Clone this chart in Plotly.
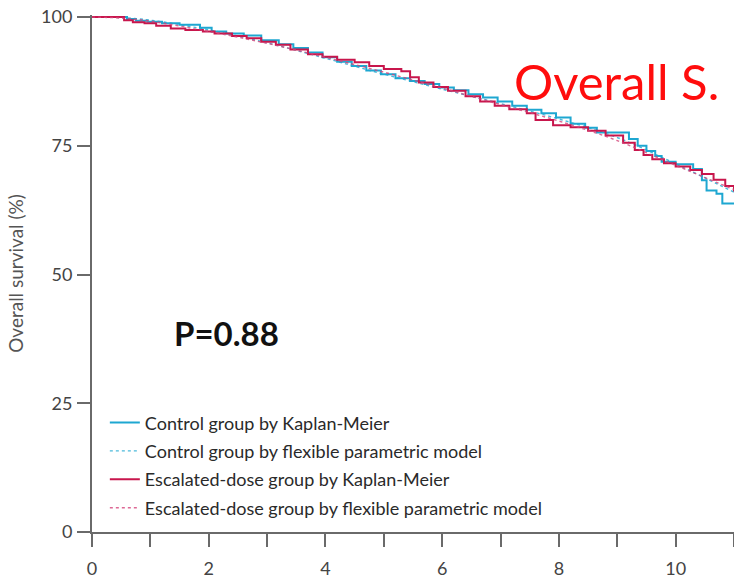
import plotly.graph_objects as go

# Kaplan-Meier estimates, years since randomisation vs overall survival (%)
control_km_years = [0, 0.6, 0.75, 0.95, 1.2, 1.5, 1.85, 2.05, 2.3, 2.6, 2.9, 3.2, 3.45,
                    3.7, 3.95, 4.2, 4.45, 4.7, 4.95, 5.2, 5.45, 5.7, 5.95, 6.2, 6.45,
                    6.7, 6.95, 7.2, 7.45, 7.7, 7.95, 8.2, 8.45, 8.65, 9.2, 9.35, 9.5,
                    9.65, 9.76, 10.0, 10.3, 10.45, 10.53, 10.7, 10.8, 11.0]
control_km_surv = [100, 99.6, 99.3, 99.1, 98.8, 98.5, 97.9, 97.2, 96.8, 96.4, 95.5, 94.7,
                   94.0, 93.1, 92.2, 91.3, 90.5, 89.6, 88.9, 88.1, 87.6, 87.0, 86.3, 85.8,
                   85.0, 84.4, 83.6, 82.8, 82.0, 81.3, 80.5, 79.3, 78.5, 77.6, 76.3, 75.0,
                   74.0, 73.0, 71.9, 71.4, 70.5, 68.3, 66.3, 65.7, 63.8, 63.8]

escalated_km_years = [0, 0.55, 0.7, 0.9, 1.1, 1.35, 1.6, 1.9, 2.1, 2.4, 2.65, 2.9, 3.15,
                      3.4, 3.7, 3.95, 4.2, 4.5, 4.75, 5.0, 5.3, 5.45, 5.6, 5.85, 6.1,
                      6.4, 6.65, 6.9, 7.15, 7.45, 7.6, 7.9, 8.2, 8.5, 8.8, 9.1, 9.3,
                      9.45, 9.6, 9.8, 10.0, 10.25, 10.45, 10.65, 10.85, 11.0]
escalated_km_surv = [100, 99.4, 99.0, 98.8, 98.3, 97.8, 97.5, 97.2, 96.8, 96.3, 95.9, 95.2,
                     94.6, 93.7, 92.8, 92.3, 91.7, 91.2, 90.5, 89.9, 89.5, 88.3, 87.3, 86.4,
                     85.7, 84.6, 83.6, 82.8, 82.1, 81.3, 80.0, 79.0, 78.6, 77.9, 77.0, 75.6,
                     74.2, 73.2, 72.4, 71.6, 71.0, 70.3, 69.5, 68.4, 67.2, 66.1]

# Flexible parametric model fits
model_years = [0, 0.5, 1, 2, 3, 4, 5, 6, 7, 8, 9, 10, 11]
control_model_surv = [100, 99.9, 99.4, 97.5, 95.0, 92.0, 88.9, 86.0, 83.2, 80.2, 76.6, 71.5, 66.0]
escalated_model_surv = [100, 99.8, 99.2, 97.2, 94.9, 92.2, 89.3, 86.2, 83.0, 79.8, 76.0, 71.2, 66.5]

series_names = [
    "Control group by Kaplan-Meier",
    "Control group by flexible parametric model",
    "Escalated-dose group by Kaplan-Meier",
    "Escalated-dose group by flexible parametric model",
]

x_ticks = [0, 2, 4, 6, 8, 10]
y_ticks = [0, 25, 50, 75, 100]

CYAN = "#1ea7d1"
CRIMSON = "#c8164c"
FONT = "Lato, 'Open Sans', sans-serif"
AXIS = "#6a6a6a"

fig = go.Figure()
fig.add_trace(go.Scatter(x=control_km_years, y=control_km_surv, mode="lines",
                         line=dict(color=CYAN, width=2, shape="hv"),
                         name=series_names[0], legendgroup="a"))
fig.add_trace(go.Scatter(x=model_years, y=control_model_surv, mode="lines",
                         line=dict(color=CYAN, width=1.4, shape="spline", dash="3px,3px"),
                         opacity=0.8, name=series_names[1], legendgroup="b"))
fig.add_trace(go.Scatter(x=escalated_km_years, y=escalated_km_surv, mode="lines",
                         line=dict(color=CRIMSON, width=2, shape="hv"),
                         name=series_names[2], legendgroup="c"))
fig.add_trace(go.Scatter(x=model_years, y=escalated_model_surv, mode="lines",
                         line=dict(color="#d4447a", width=1.4, shape="spline", dash="3px,3px"),
                         opacity=0.8, name=series_names[3], legendgroup="d"))

fig.add_annotation(x=2.31, y=38.6, xref="x", yref="y", text="<b>P=0.88</b>",
                   showarrow=False, font=dict(family=FONT, size=33, color="#111111"))
fig.add_annotation(x=8.98, y=87.6, xref="x", yref="y", text="Overall S.",
                   showarrow=False, font=dict(family=FONT, size=49, color="#ff0d0d"))

fig.update_layout(
    width=734, height=579,
    margin=dict(l=92, r=0, t=15, b=44),
    paper_bgcolor="white", plot_bgcolor="white",
    font=dict(family=FONT, color="#444444"),
    showlegend=True,
    legend=dict(x=0.02, y=0.247, xanchor="left", yanchor="top",
                font=dict(family=FONT, size=18, color="#2a2a2a"),
                bgcolor="rgba(0,0,0,0)", tracegroupgap=2, itemwidth=30),
    xaxis=dict(range=[0, 11], tickmode="array", tickvals=x_ticks,
               showline=True, linecolor=AXIS, linewidth=2,
               ticks="outside", ticklen=13, tickwidth=2, tickcolor=AXIS,
               minor=dict(dtick=1, tick0=0, ticks="outside", ticklen=13,
                          tickwidth=2, tickcolor=AXIS, showgrid=False),
               tickfont=dict(family=FONT, size=18, color="#444444"),
               ticklabelstandoff=6,
               showgrid=False, zeroline=False),
    yaxis=dict(range=[0, 100.4], tickmode="array", tickvals=y_ticks,
               showline=True, linecolor=AXIS, linewidth=2,
               ticks="outside", ticklen=13, tickwidth=2, tickcolor=AXIS,
               tickfont=dict(family=FONT, size=18, color="#444444"),
               ticklabelstandoff=1,
               title=dict(text="Overall survival (%)", standoff=12,
                          font=dict(family=FONT, size=19, color="#555555")),
               showgrid=False, zeroline=False),
)

fig.write_html("out.html")
